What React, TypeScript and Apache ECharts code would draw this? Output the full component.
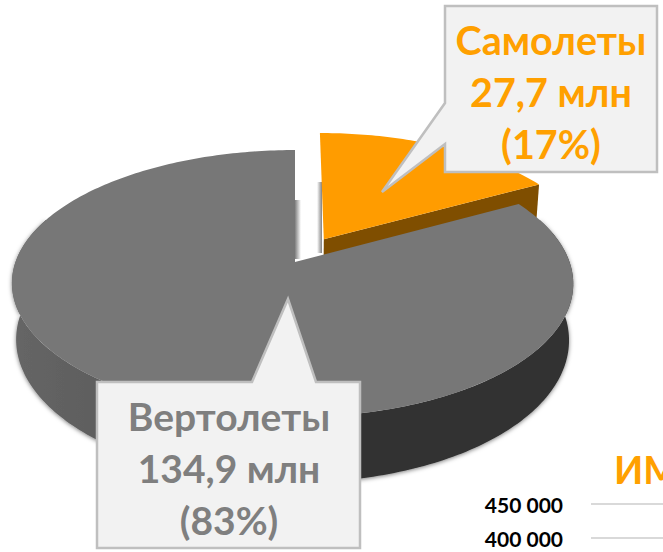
import React, { useEffect, useRef } from "react";
import * as echarts from "echarts";

const categories = ["Самолеты", "Вертолеты"];
const values = [27.7, 134.9];
const percents = [17, 83];
const axisTicks = [400000, 450000];

const ORANGE = "#FF9C00";
const GREY = "#777777";
const FONT = "Lato, 'Open Sans', 'Noto Sans', sans-serif";

// perspective projection of the unit circle
const CX = 292.5, CY = 262, R = 277, F = 130, K = 0.161, H = 55, BOTTOM_SCALE = 0.985;
const EXPLODE = 0.21;

function project(u: number, v: number, low: boolean): number[] {
  const d = 1 - K * v;
  const lean = 2.5 * Math.max(0, 1 - u * u);
  return [
    CX + lean + (low ? BOTTOM_SCALE : 1) * (R * u) / d,
    CY + (F * v) / d + (low ? H / d : 0),
  ];
}
function rimPoint(deg: number, ou: number, ov: number, low: boolean) {
  const t = (deg * Math.PI) / 180;
  return project(ou + Math.sin(t), ov - Math.cos(t), low);
}
function arc(a: number, b: number, ou: number, ov: number, low: boolean) {
  const pts: number[][] = [];
  const n = Math.max(2, Math.ceil(Math.abs(b - a)));
  for (let i = 0; i <= n; i++) pts.push(rimPoint(a + ((b - a) * i) / n, ou, ov, low));
  return pts;
}

const renderSlice = (params: any, api: any) => {
  const index = params.dataIndex;
  const total = api.value(0) + api.value(1);
  const first = (api.value(0) / total) * 360;
  if (index === 0) {
    const mid = (first / 2) * (Math.PI / 180);
    const ou = EXPLODE * Math.sin(mid);
    const ov = -EXPLODE * Math.cos(mid);
    const apexTop = project(ou, ov, false);
    const apexLow = project(ou, ov, true);
    const edge = rimPoint(first, ou, ov, false);
    const edgeLow = rimPoint(first, ou, ov, true);
    return {
      type: "group",
      children: [
        { type: "polygon", shape: { points: [apexTop, edge, edgeLow, apexLow] }, style: { fill: "#7F4E00" } },
        { type: "polygon", shape: { points: [apexTop, ...arc(0, first, ou, ov, false)] }, style: { fill: ORANGE } },
      ],
    };
  }
  const wallTop = arc(70, 290, 0, 0, false);
  const wallLow = arc(290, 70, 0, 0, true);
  return {
    type: "group",
    children: [
      {
        type: "polygon",
        shape: { points: [...wallTop, ...wallLow] },
        style: {
          fill: {
            type: "linear", x: 0, y: 0, x2: 1, y2: 0,
            colorStops: [
              { offset: 0, color: "#666666" },
              { offset: 0.15, color: "#5e5e5e" },
              { offset: 0.55, color: "#323232" },
              { offset: 1, color: "#303030" },
            ],
          },
          shadowColor: "rgba(0,0,0,0.5)",
          shadowBlur: 4,
          shadowOffsetY: 1,
        },
      },
      { type: "polygon", shape: { points: [project(0, 0, false), ...arc(first, 360, 0, 0, false)] }, style: { fill: GREY } },
    ],
  };
};

const fmtValue = (v: number) => String(v).replace(".", ",");
const fmtTick = (v: number) => String(v).replace(/\B(?=(\d{3})+$)/g, " ");
const calloutText = (i: number) => `${categories[i]}\n${fmtValue(values[i])} млн\n(${percents[i]}%)`;

export default function App() {
  const ref = useRef<HTMLDivElement>(null);
  useEffect(() => {
    document.body.style.margin = "0";
    const chart = echarts.init(ref.current!, undefined, { renderer: "svg" });
    const calloutStyle = { fill: "#F2F2F2", stroke: "#BFBFBF", lineWidth: 2.5 };
    const stripFill = (from: string, to: string) => ({
      type: "linear", x: 0, y: 0, x2: 1, y2: 0,
      colorStops: [{ offset: 0, color: from }, { offset: 1, color: to }],
    });
    chart.setOption({
      animation: false,
      backgroundColor: "#ffffff",
      grid: { left: 591, top: 504, width: 80, height: 34, containLabel: false },
      xAxis: { type: "value", show: false, min: 0, max: 1 },
      yAxis: {
        type: "value",
        min: axisTicks[0],
        max: axisTicks[1],
        interval: axisTicks[1] - axisTicks[0],
        axisLine: { show: false },
        axisTick: { show: false },
        splitLine: { lineStyle: { color: "#D9D9D9", width: 2 } },
        axisLabel: { formatter: fmtTick, color: "#000000", fontWeight: "bold", fontSize: 21, fontFamily: FONT, margin: 28 },
      },
      series: [
        {
          type: "custom",
          coordinateSystem: "none",
          silent: true,
          clip: false,
          data: values.map((v, i) => ({ name: categories[i], value: [values[0], values[1]] })),
          renderItem: renderSlice,
        },
      ],
      graphic: [
        { type: "rect", z: 1, shape: { x: 295, y: 200, width: 6, height: 59 }, style: { fill: stripFill("#808080", "#ffffff") } },
        { type: "rect", z: 1, shape: { x: 317, y: 182, width: 5, height: 71 }, style: { fill: stripFill("#ffffff", "#808080") } },
        { type: "polygon", z: 10, shape: { points: [[445, 6], [657, 6], [657, 172], [445, 172], [445, 144], [382, 192], [445, 103]] }, style: calloutStyle },
        { type: "text", z: 11, style: { x: 551, y: 91, text: calloutText(0), fill: "#FFA000", font: `bold 39.5px ${FONT}`, lineHeight: 52, align: "center", verticalAlign: "middle" } },
        { type: "polygon", z: 10, shape: { points: [[252, 382], [288, 299], [316, 382], [360, 382], [360, 548], [97, 548], [97, 382]] }, style: calloutStyle },
        { type: "text", z: 11, style: { x: 229, y: 468, text: calloutText(1), fill: "#7F7F7F", font: `bold 39px ${FONT}`, lineHeight: 52, align: "center", verticalAlign: "middle" } },
        { type: "text", z: 11, style: { x: 614, y: 469, text: "ИМ", fill: "#FFA000", font: `bold 38px ${FONT}`, align: "left", verticalAlign: "middle" } },
      ],
    });
    return () => chart.dispose();
  }, []);
  return <div ref={ref} style={{ width: 663, height: 552, overflow: "hidden" }} />;
}
